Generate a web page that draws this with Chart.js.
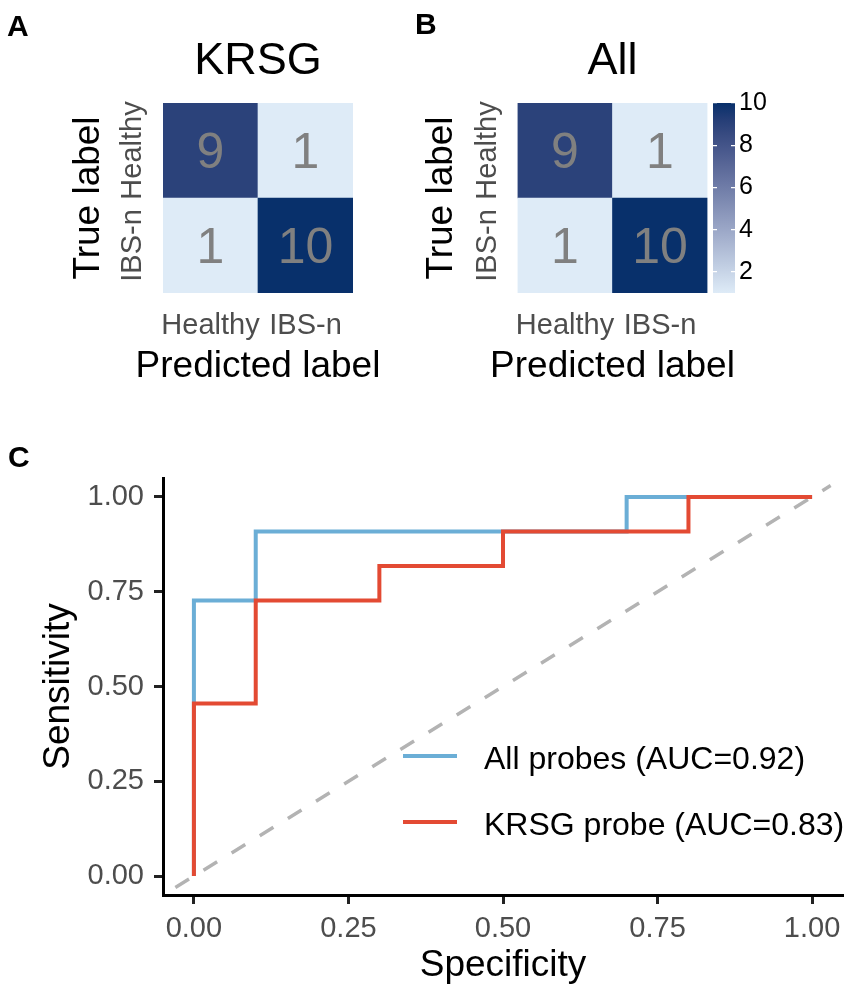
<!DOCTYPE html>
<html>
<head>
<meta charset="utf-8">
<title>KRSG vs All probes</title>
<script src="https://cdn.jsdelivr.net/npm/chart.js@4.4.1/dist/chart.umd.min.js"></script>
<style>
  html, body { margin: 0; padding: 0; background: #fff; }
  #fig { position: relative; width: 851px; height: 992px; overflow: hidden;
         font-family: "Liberation Sans", Arial, sans-serif; }
  .cv  { position: absolute; }
  .tag { position: absolute; font-weight: bold; line-height: 1; color: #000; font-size: 30px; }
</style>
</head>
<body>
<div id="fig">
  <div class="cv" style="left:0;top:0;width:420px;height:400px"><canvas id="cmA"></canvas></div>
  <div class="cv" style="left:400px;top:0;width:370px;height:400px"><canvas id="cmB"></canvas></div>
  <div class="cv" style="left:700px;top:80px;width:100px;height:240px"><canvas id="cbar"></canvas></div>
  <div class="cv" style="left:0;top:430px;width:851px;height:562px"><canvas id="roc"></canvas></div>
  <div class="tag" style="left:7px;top:11px">A</div>
  <div class="tag" style="left:415px;top:9px">B</div>
  <div class="tag" style="left:8px;top:442px">C</div>
</div>
<script>
// --- data -----------------------------------------------------------------
// confusion matrices: rows = true label (top row first), cols = predicted label
const PRED_LABELS = ['Healthy', 'IBS-n'];
const TRUE_LABELS = ['Healthy', 'IBS-n'];
const KRSG_COUNTS = [[9, 1], [1, 10]];
const ALL_COUNTS  = [[9, 1], [1, 10]];
const CBAR_RANGE  = [1, 10];
const CBAR_TICKS  = [2, 4, 6, 8, 10];

// ROC curves (x = 1 - specificity as plotted, y = sensitivity), step vertices
const ALL_FPR  = [0, 0, 0.1, 0.7, 1];
const ALL_TPR  = [0, 0.727, 0.909, 1, 1];
const KRSG_FPR = [0, 0, 0.1, 0.3, 0.5, 0.8, 1];
const KRSG_TPR = [0, 0.455, 0.727, 0.818, 0.909, 1, 1];
const DIAG     = [-0.03, 1.03];
const ROC_TICKS = [0, 0.25, 0.5, 0.75, 1];

// --- styles -----------------------------------------------------------------
const FONT = '"Liberation Sans", Arial, sans-serif';
const LOW = '#deebf7', HIGH = '#08306b';
const BLUE = '#6baed6', RED = '#e34a33', DIAG_COL = '#b3b3b3';
const AXIS_TXT = '#4d4d4d';

Chart.defaults.font.family = FONT;
Chart.defaults.animation = false;
Chart.defaults.responsive = true;
Chart.defaults.maintainAspectRatio = false;
Chart.defaults.events = [];
Chart.defaults.plugins.legend.display = false;
Chart.defaults.plugins.tooltip.enabled = false;

// gradient like ggplot: interpolate low..high in Lab space
function hex2rgb(h){ return [1,3,5].map(i=>parseInt(h.slice(i,i+2),16)); }
const WP = [0.95047, 1, 1.08883];
function lin(c){ c/=255; return c<=0.04045 ? c/12.92 : Math.pow((c+0.055)/1.055, 2.4); }
function gam(c){ c = c<=0.0031308 ? 12.92*c : 1.055*Math.pow(c,1/2.4)-0.055; return Math.round(Math.max(0,Math.min(1,c))*255); }
function rgb2lab(rgb){
  const [r,g,b] = rgb.map(lin);
  const xyz = [0.4124*r+0.3576*g+0.1805*b, 0.2126*r+0.7152*g+0.0722*b, 0.0193*r+0.1192*g+0.9505*b];
  const f = xyz.map((v,i)=>{ v/=WP[i]; return v>0.008856 ? Math.cbrt(v) : 7.787*v+16/116; });
  return [116*f[1]-16, 500*(f[0]-f[1]), 200*(f[1]-f[2])];
}
function lab2rgb([L,a,b]){
  const fy=(L+16)/116, fx=fy+a/500, fz=fy-b/200;
  const [x,y,z] = [fx,fy,fz].map((f,i)=>{ const c=f*f*f; return (c>0.008856 ? c : (f-16/116)/7.787)*WP[i]; });
  return [3.2406*x-1.5372*y-0.4986*z, -0.9689*x+1.8758*y+0.0415*z, 0.0557*x-0.2040*y+1.0570*z].map(gam);
}
const LAB_LO = rgb2lab(hex2rgb(LOW)), LAB_HI = rgb2lab(hex2rgb(HIGH));
function fillColor(n){
  const t = (n-CBAR_RANGE[0])/(CBAR_RANGE[1]-CBAR_RANGE[0]);
  return 'rgb(' + lab2rgb(LAB_LO.map((v,i)=>v+(LAB_HI[i]-v)*t)).join(',') + ')';
}

// one floating bar per cell: column = predicted label, [row, row+1] on the y scale
function cells(counts){
  const out = [];
  TRUE_LABELS.forEach((t,i)=>{
    const r = TRUE_LABELS.length-1-i;
    PRED_LABELS.forEach((p,j)=> out.push({x:p, y:[r, r+1], n:counts[i][j]}));
  });
  return out;
}

// --- plugins ----------------------------------------------------------------
const cellText = {
  id:'cellText',
  afterDatasetsDraw(chart){
    const ctx = chart.ctx, meta = chart.getDatasetMeta(0), data = chart.data.datasets[0].data;
    ctx.save();
    ctx.font = '50px ' + FONT; ctx.fillStyle = '#808080';
    ctx.textAlign = 'center'; ctx.textBaseline = 'alphabetic';
    meta.data.forEach((bar,i)=>{
      const {x,y,base} = bar.getProps(['x','y','base'], true);
      ctx.fillText(String(data[i].n), x, (y+base)/2 + 0.358*50);
    });
    ctx.restore();
  }
};

// ggplot style y labels (rotated, bottom-to-top) and an x title wider than the panel
const heatLabels = {
  id:'heatLabels',
  afterDraw(chart, args, o){
    const s = chart.scales.y, ctx = chart.ctx, area = chart.chartArea;
    ctx.save();
    ctx.font = '29px ' + FONT; ctx.fillStyle = AXIS_TXT;
    ctx.textAlign = 'center'; ctx.textBaseline = 'alphabetic';
    s.ticks.forEach(t=>{
      ctx.save();
      ctx.translate(s.right - o.gap, s.getPixelForValue(t.value));
      ctx.rotate(-Math.PI/2);
      ctx.fillText(t.label, 0, 0);
      ctx.restore();
    });
    ctx.font = '37px ' + FONT; ctx.fillStyle = '#000';
    ctx.fillText(o.xTitle, (area.left + area.right)/2, area.bottom + o.xTitleDrop);
    ctx.restore();
  }
};

const rocLegend = {
  id:'rocLegend',
  afterDraw(chart, args, o){
    const {ctx, chartArea} = chart;
    ctx.save();
    ctx.font = o.size + 'px ' + FONT; ctx.textBaseline = 'alphabetic'; ctx.textAlign = 'left';
    o.items.forEach((idx,k)=>{
      const ds = chart.data.datasets[idx];
      const x = chartArea.left + o.left, y = chartArea.top + o.top + k*o.gap;
      ctx.strokeStyle = ds.borderColor; ctx.lineWidth = ds.borderWidth; ctx.lineCap = 'butt';
      ctx.beginPath(); ctx.moveTo(x, y); ctx.lineTo(x + o.key, y); ctx.stroke();
      ctx.fillStyle = '#000';
      ctx.fillText(ds.label, x + o.key + o.pad, y + o.base);
    });
    ctx.restore();
  }
};

// --- confusion matrices -------------------------------------------------------
function confusion(id, title, counts, g){
  const yW = g.areaLeft - g.left - g.padL;
  new Chart(document.getElementById(id), {
    type:'bar',
    data:{ labels:PRED_LABELS, datasets:[{
      data:cells(counts),
      backgroundColor:c=> c.raw ? fillColor(c.raw.n) : LOW,
      borderWidth:0, barPercentage:1, categoryPercentage:1,
    }]},
    options:{
      layout:{padding:{left:g.padL, right:g.left+g.width-g.areaRight, top:0, bottom:12.5}},
      plugins:{
        title:{display:true, text:title, fullSize:false, color:'#000',
               font:{size:45, weight:'normal'}, padding:{top:35, bottom:14}},
        heatLabels:{gap:22, xTitle:'Predicted label', xTitleDrop:83.7},
      },
      scales:{
        x:{ type:'category', offset:true, grid:{display:false, drawTicks:false}, border:{display:false},
            ticks:{font:{size:29}, color:AXIS_TXT, padding:16, maxRotation:0, autoSkip:false},
            afterFit(s){ s.height = 94.5; } },
        y:{ type:'linear', min:0, max:TRUE_LABELS.length, grid:{display:false, drawTicks:false}, border:{display:false},
            afterBuildTicks(s){ s.ticks = TRUE_LABELS.map((l,i)=>({value:TRUE_LABELS.length-1-i+0.5})); },
            ticks:{display:false, callback:v=>TRUE_LABELS[TRUE_LABELS.length-1-Math.floor(v)]},
            title:{display:true, text:'True label', color:'#000', font:{size:37}, padding:0},
            afterFit(s){ s.width = yW; } },
      },
    },
    plugins:[cellText, heatLabels],
  });
}
confusion('cmA', 'KRSG', KRSG_COUNTS, {left:0,   width:420, padL:66.1, areaLeft:163,   areaRight:353});
confusion('cmB', 'All',  ALL_COUNTS,  {left:400, width:370, padL:19.6, areaLeft:517.5, areaRight:707.5});

// --- colour bar for panel B -----------------------------------------------------
new Chart(document.getElementById('cbar'), {
  type:'bar',
  data:{ labels:['n'], datasets:[{
    data:[CBAR_RANGE],
    backgroundColor(c){
      const chart = c.chart, s = chart.scales.y;
      if(!chart.chartArea || !s) return LOW;
      const g = chart.ctx.createLinearGradient(0, s.getPixelForValue(CBAR_RANGE[0]), 0, s.getPixelForValue(CBAR_RANGE[1]));
      for(let k=0;k<=12;k++){ g.addColorStop(k/12, fillColor(CBAR_RANGE[0]+(CBAR_RANGE[1]-CBAR_RANGE[0])*k/12)); }
      return g;
    },
    borderWidth:0, barPercentage:1, categoryPercentage:1,
  }]},
  options:{
    layout:{padding:{left:13, right:25, top:23, bottom:27}},
    scales:{
      x:{display:false},
      y:{ position:'right', min:CBAR_RANGE[0], max:CBAR_RANGE[1],
          afterBuildTicks(s){ s.ticks = CBAR_TICKS.map(v=>({value:v})); },
          ticks:{font:{size:25}, color:'#000', padding:4},
          grid:{display:true, drawTicks:false, color:'#ffffff', lineWidth:1.3, z:1},
          border:{display:false, dash:[4,14]},
          afterFit(s){ s.width = 40; } },
    },
  },
});

// --- ROC ------------------------------------------------------------------------
const pts = (xs, ys) => xs.map((x,i)=>({x, y:ys[i]}));
new Chart(document.getElementById('roc'), {
  type:'line',
  data:{ datasets:[
    {label:'KRSG probe (AUC=0.83)', data:pts(KRSG_FPR, KRSG_TPR), borderColor:RED,
     borderWidth:4, stepped:'before', pointRadius:0, fill:false, order:0},
    {label:'All probes (AUC=0.92)', data:pts(ALL_FPR, ALL_TPR), borderColor:BLUE,
     borderWidth:4, stepped:'before', pointRadius:0, fill:false, order:1},
    {label:'chance', data:pts(DIAG, DIAG), borderColor:DIAG_COL, borderDash:[16,17],
     borderWidth:3.5, pointRadius:0, fill:false, order:2},
  ]},
  options:{
    layout:{padding:{left:36.9, right:8, top:48, bottom:4.2}},
    plugins:{ rocLegend:{items:[1,0], left:240, key:54, pad:27, top:278, gap:66, base:13, size:32} },
    scales:{
      x:{ type:'linear', min:-0.05, max:1.05,
          afterBuildTicks(s){ s.ticks = ROC_TICKS.map(v=>({value:v})); },
          ticks:{callback:v=>v.toFixed(2), font:{size:29}, color:AXIS_TXT, padding:8, maxRotation:0},
          grid:{drawOnChartArea:false, drawTicks:true, tickLength:9, tickColor:'#222', tickWidth:3},
          border:{display:true, color:'#000', width:3},
          title:{display:true, text:'Specificity', color:'#000', font:{size:37}, padding:0},
          afterFit(s){ s.height = 92.8; } },
      y:{ type:'linear', min:-0.05, max:1.05,
          afterBuildTicks(s){ s.ticks = ROC_TICKS.map(v=>({value:v})); },
          ticks:{callback:v=>v.toFixed(2), font:{size:29}, color:AXIS_TXT, padding:10},
          grid:{drawOnChartArea:false, drawTicks:true, tickLength:9, tickColor:'#222', tickWidth:3},
          border:{display:true, color:'#000', width:3},
          title:{display:true, text:'Sensitivity', color:'#000', font:{size:37}, padding:0},
          afterFit(s){ s.width = 163 - 36.9; } },
    },
  },
  plugins:[rocLegend],
});
</script>
</body>
</html>
